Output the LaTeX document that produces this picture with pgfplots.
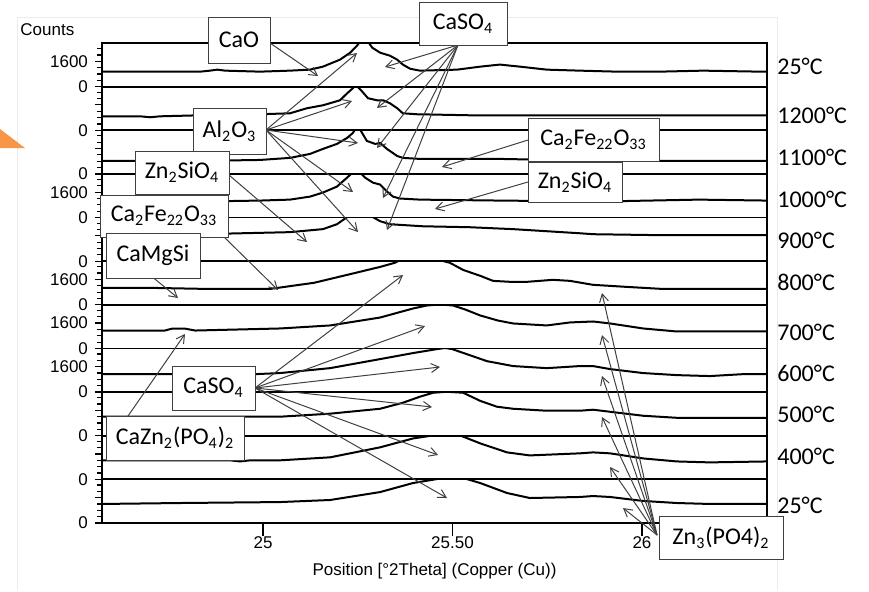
\documentclass[border=0pt]{standalone}
\usepackage{fontspec}
\setmainfont{Liberation Sans}
\newfontfamily\calfont{Carlito}
\usepackage{pgfplots}
\pgfplotsset{compat=1.18}
\usetikzlibrary{arrows.meta}
\definecolor{orng}{HTML}{F79646}
\definecolor{arrgray}{HTML}{404040}
\newcommand\sub[1]{\textsubscript{#1}}
\pgfplotsset{panel/.style={
  scale only axis, width=332.5pt, height=21.818pt,
  xmin=24.575, xmax=26.330, ymin=0, ymax=2750,
  anchor=north west,
  axis line style={line width=0.9pt, black},
  ytick={0,1600}, minor ytick={400,800,1200,2000,2400},
  ytick pos=left, tick align=outside,
  major tick length=3.5pt, minor tick length=2.5pt,
  tick style={black, line width=0.6pt},
  xtick=\empty,
  tick label style={font=\fontsize{8.5}{9}\selectfont},
  /pgf/number format/assume math mode=true,
  every axis plot post/.append style={black, line width=1pt, mark=none},
}}
\begin{document}
\begin{tikzpicture}
\useasboundingbox (0,0) rectangle (434.5pt,-295.5pt);
\begin{scope}[x=0.5pt,y=-0.5pt]
\draw[black!8, line width=0.5pt] (17,591) -- (17,17) -- (777,17) -- (777,591);
\fill[orng] (0,129) -- (25,148) -- (0,148) -- cycle;
\end{scope}

% panel 1: 25 C
\begin{axis}[panel, at={(51pt,-21.5pt)}, yticklabels={0,1600}]
\addplot coordinates {(24.575,945) (24.702,945) (24.834,945) (24.860,1008) (24.879,1071) (24.900,1008) (24.992,945) (25.071,1008) (25.124,1071) (25.158,1260) (25.203,1700) (25.230,2140) (25.248,2580) (25.256,2835) (25.266,3000) (25.277,2835) (25.288,2460) (25.309,2140) (25.335,1950) (25.354,1700) (25.369,1390) (25.388,1130) (25.414,1008) (25.512,1071) (25.573,1260) (25.625,1390) (25.678,1260) (25.749,1071) (25.836,1008) (25.934,945) (26.048,945) (26.161,1008) (26.311,945) (26.330,945)};
\end{axis}
% panel 2: 1200 C
\begin{axis}[panel, at={(51pt,-43.318pt)}, yticklabels={0,}]
\addplot coordinates {(24.575,880) (24.676,880) (24.702,820) (24.728,880) (24.834,945) (24.992,1010) (25.071,1070) (25.116,1390) (25.158,1575) (25.203,1890) (25.222,2330) (25.237,2650) (25.243,2800) (25.251,2710) (25.261,2460) (25.277,2020) (25.301,1890) (25.317,1890) (25.335,1700) (25.354,1390) (25.369,1070) (25.406,1010) (25.546,945) (25.784,945) (26.048,945) (26.330,945)};
\end{axis}
% panel 3: 1100 C
\begin{axis}[panel, at={(51pt,-65.136pt)}, yticklabels={0,}]
\addplot coordinates {(24.575,820) (24.834,820) (24.992,880) (25.071,1010) (25.124,1260) (25.158,1575) (25.195,1890) (25.222,2270) (25.237,2580) (25.243,2800) (25.256,2800) (25.274,2080) (25.296,1890) (25.309,1950) (25.327,1575) (25.354,1130) (25.369,1010) (25.414,945) (25.625,945) (25.900,820) (26.330,820)};
\end{axis}
% panel 4: 1000 C
\begin{axis}[panel, at={(51pt,-86.955pt)}, yticklabels={0,1600}]
\addplot coordinates {(24.575,945) (24.834,1010) (24.992,1070) (25.071,1130) (25.124,1320) (25.158,1575) (25.195,1950) (25.222,2520) (25.237,2850) (25.256,2850) (25.269,2520) (25.290,2200) (25.309,2080) (25.327,1640) (25.343,1320) (25.361,1200) (25.414,1130) (25.625,1070) (25.890,1010) (26.150,1130) (26.330,1070)};
\end{axis}
% panel 5: 900 C
\begin{axis}[panel, at={(51pt,-108.773pt)}, yticklabels={0,}]
\addplot coordinates {(24.575,1640) (24.834,1700) (25.071,1830) (25.158,2020) (25.195,2330) (25.222,2780) (25.256,2850) (25.290,2780) (25.309,2520) (25.335,2330) (25.422,2200) (25.546,2140) (25.660,2020) (25.836,1760) (25.871,1700) (26.048,1640) (26.330,1640)};
\end{axis}
% panel 6: 800 C
\begin{axis}[panel, at={(51pt,-130.591pt)}, yticklabels={0,1600}]
\addplot coordinates {(24.575,1070) (24.702,1070) (24.834,1010) (25.021,1010) (25.135,1390) (25.245,2020) (25.309,2390) (25.348,2650) (25.359,2780) (25.414,2850) (25.472,2780) (25.493,2650) (25.528,2200) (25.573,1830) (25.607,1510) (25.652,1450) (25.697,1450) (25.765,1575) (25.810,1510) (25.871,1260) (25.960,1130) (26.048,1010) (26.330,1010)};
\end{axis}
% panel 7: 700 C
\begin{axis}[panel, at={(51pt,-152.409pt)}, yticklabels={0,1600}]
\addplot coordinates {(24.575,1130) (24.741,1130) (24.760,1250) (24.794,1250) (24.821,1130) (25.045,1260) (25.177,1450) (25.309,1950) (25.396,2520) (25.433,2710) (25.467,2770) (25.501,2710) (25.533,2460) (25.573,2080) (25.620,1760) (25.660,1575) (25.749,1450) (25.810,1640) (25.871,1700) (25.916,1575) (26.003,1260) (26.092,1070) (26.330,1070)};
\end{axis}
% panel 8: 600 C
\begin{axis}[panel, at={(51pt,-174.227pt)}, yticklabels={0,1600}]
\addplot coordinates {(24.575,1130) (24.939,1130) (24.953,1060) (24.979,1130) (25.045,1200) (25.177,1510) (25.309,2080) (25.396,2460) (25.459,2710) (25.480,2780) (25.499,2710) (25.538,2390) (25.591,1950) (25.660,1640) (25.749,1510) (25.836,1640) (25.871,1640) (25.916,1450) (26.003,1200) (26.092,1070) (26.179,1010) (26.266,1130) (26.330,1130)};
\end{axis}
% panel 9: 500 C
\begin{axis}[panel, at={(51pt,-196.045pt)}, yticklabels={0,}]
\addplot coordinates {(24.575,1200) (25.045,1200) (25.177,1390) (25.309,1700) (25.369,2080) (25.414,2460) (25.449,2710) (25.485,2770) (25.528,2710) (25.573,2200) (25.617,1830) (25.660,1700) (25.749,1575) (25.836,1575) (25.871,1640) (25.916,1510) (26.003,1260) (26.092,1130) (26.330,1130)};
\end{axis}
% panel 10: 400 C
\begin{axis}[panel, at={(51pt,-217.864pt)}, yticklabels={0,}]
\addplot coordinates {(24.575,1200) (24.913,1200) (24.939,1130) (24.966,1200) (25.045,1200) (25.177,1390) (25.309,2020) (25.396,2580) (25.449,2770) (25.485,2835) (25.520,2770) (25.573,2270) (25.644,1700) (25.704,1510) (25.836,1640) (25.871,1700) (25.916,1640) (26.003,1320) (26.092,1130) (26.179,1070) (26.330,1130)};
\end{axis}
% panel 11: 25 C
\begin{axis}[panel, at={(51pt,-239.682pt)}, yticklabels={0,},
  xtick={25,25.5,26}, xticklabels={25,25.50,26}, xtick pos=bottom,
  xtick style={/pgfplots/major tick length=6.5pt},
  xlabel={Position [°2Theta] (Copper (Cu))},
  xlabel style={font=\fontsize{8.5}{9}\selectfont}]
\addplot coordinates {(24.575,1200) (24.781,1260) (25.045,1320) (25.177,1450) (25.309,1950) (25.396,2520) (25.459,2770) (25.493,2835) (25.538,2770) (25.573,2520) (25.644,1890) (25.704,1575) (25.836,1640) (25.871,1700) (25.916,1640) (26.003,1390) (26.092,1260) (26.179,1200) (26.330,1200)};
\end{axis}

\begin{scope}[x=0.5pt,y=-0.5pt]
\node[anchor=west, inner sep=0pt, font=\fontsize{8.5}{9}\selectfont] at (20,30) {Counts};
% temperature labels
\begin{scope}[every node/.style={anchor=west, inner sep=0pt, font=\calfont\fontsize{12}{14}\selectfont}]
\node at (777,66) {25°C};
\node at (777,115) {1200°C};
\node at (777,157) {1100°C};
\node at (777,199) {1000°C};
\node at (777,240) {900°C};
\node at (777,282) {800°C};
\node at (777,332) {700°C};
\node at (777,373) {600°C};
\node at (777,414) {500°C};
\node at (777,456) {400°C};
\node at (777,505) {25°C};
\end{scope}
% arrows
\begin{scope}[draw=arrgray, line width=0.5pt, -{Straight Barb[length=4pt,width=4.5pt]}]
\draw (270,43) -- (318,76);
\foreach \x/\y in {385/67, 377/108, 377/148, 383/198, 387/230} \draw (458,45) -- (\x,\y);
\foreach \x/\y in {357/53, 352/101, 358/143, 353/192, 358/232} \draw (266,130) -- (\x,\y);
\draw (528,140) -- (442,167);
\draw (528,182) -- (435,209);
\draw (229,175) -- (307,242);
\draw (223,236) -- (278,290);
\draw (150,275) -- (178,298);
\draw (128,416) -- (185,334);
\foreach \x/\y in {403/275, 425/326, 440/367, 432/407, 438/455, 447/498} \draw (255,388) -- (\x,\y);
\foreach \x/\y in {602/293, 602/335, 602/376, 602/417, 610/467, 623/508} \draw (657,535) -- (\x,\y);
\end{scope}
% boxes
\begin{scope}[every node/.style={inner sep=0pt, font=\calfont\fontsize{12}{14}\selectfont}]
\def\bx#1#2#3#4#5{\filldraw[fill=white, draw=arrgray, line width=0.5pt] (#1,#2) rectangle (#3,#4); \node at ({(#1+#3)/2},{(#2+#4)/2}) {#5};}
\bx{208}{17}{270}{63}{CaO}
\bx{419}{2}{507}{45}{CaSO\sub{4}}
\bx{193}{108}{266}{154}{Al\sub{2}O\sub{3}}
\bx{135}{151}{229}{194}{Zn\sub{2}SiO\sub{4}}
\bx{100}{195}{228}{237}{Ca\sub{2}Fe\sub{22}O\sub{33}}
\bx{106}{233}{200}{278}{CaMgSi}
\bx{528}{118}{659}{161}{Ca\sub{2}Fe\sub{22}O\sub{33}}
\bx{528}{162}{622}{202}{Zn\sub{2}SiO\sub{4}}
\bx{172}{366}{255}{410}{CaSO\sub{4}}
\bx{106}{416}{244}{460}{CaZn\sub{2}(PO\sub{4})\sub{2}}
\bx{659}{516}{783}{559}{Zn\sub{3}(PO4)\sub{2}}
\end{scope}
\end{scope}
\end{tikzpicture}
\end{document}
